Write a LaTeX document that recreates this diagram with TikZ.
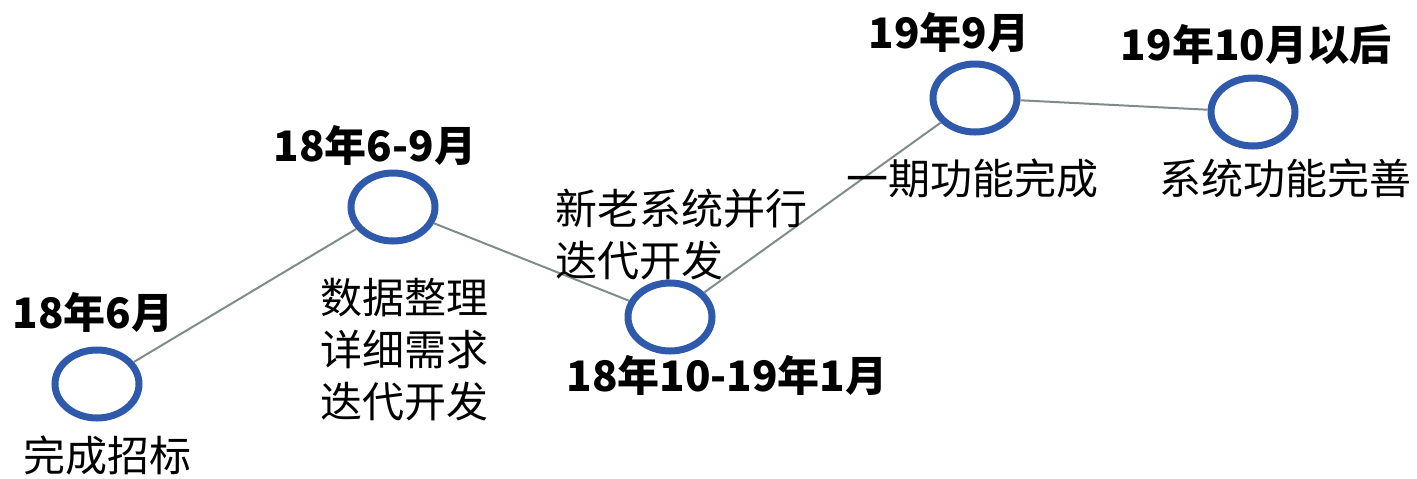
\documentclass[tikz,border=0pt]{standalone}
\usepackage{fontspec}
\setmainfont{Noto Sans CJK SC}
\usetikzlibrary{shapes.geometric}

\definecolor{msblue}{RGB}{47,90,172}
\definecolor{linkgray}{RGB}{128,140,140}

\begin{document}
\begin{tikzpicture}[
    x=0.5pt, y=-0.5pt,
    milestone/.style={ellipse, draw=msblue, line width=3.5pt, minimum width=42pt, minimum height=34pt, inner sep=0pt},
    link/.style={draw=linkgray, line width=1pt},
    date/.style={inner sep=0pt, font=\fontsize{21}{26}\selectfont\bfseries},
    task/.style={inner sep=0pt, font=\fontsize{21}{26}\selectfont, align=center}
  ]

  \useasboundingbox (0,0) rectangle (1417,478);

  % milestones
  \node [milestone] (tender)   at (97,384)  {};
  \node [milestone] (require)  at (393,207) {};
  \node [milestone] (parallel) at (670,317) {};
  \node [milestone] (phase)    at (975,98)  {};
  \node [milestone] (improve)  at (1253,112) {};

  \draw [link] (tender) -- (require);
  \draw [link] (require) -- (parallel);
  \draw [link] (parallel) -- (phase);
  \draw [link] (phase) -- (improve);

  % dates
  \node [date] (tender date)   at (93,312)   {18年6月};
  \node [date] (require date)  at (375,145)  {18年6-9月};
  \node [date] (parallel date) at (727,375)  {18年10-19年1月};
  \node [date] (phase date)    at (949,32)   {19年9月};
  \node [date] (improve date)  at (1256,45)  {19年10月以后};

  % tasks
  \node [task] (tender task)   at (107,455)  {完成招标};
  \node [task] (require task)  at (404,350)  {数据整理\\详细需求\\迭代开发};
  \node [task, align=left, anchor=west] (parallel task) at (555,235) {新老系统并行\\迭代开发};
  \node [task] (phase task)    at (972,178)  {一期功能完成};
  \node [task] (improve task)  at (1285,178) {系统功能完善};

\end{tikzpicture}
\end{document}
